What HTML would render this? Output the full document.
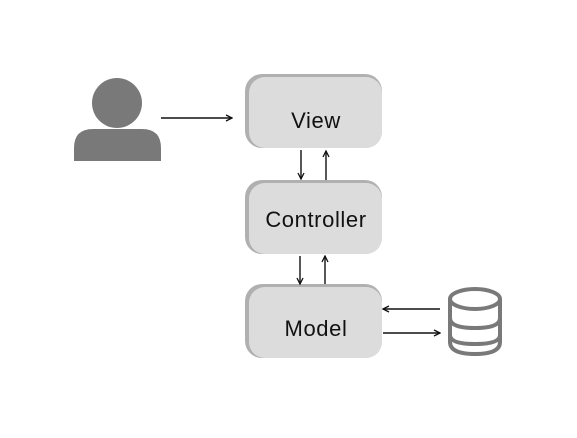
<!DOCTYPE html>
<html><head><style>
body{margin:0;background:#fff;width:577px;height:433px;overflow:hidden}
</style></head><body>
<svg width="577" height="433" viewBox="0 0 577 433" xmlns="http://www.w3.org/2000/svg">
<defs>
<marker id="a" markerWidth="8" markerHeight="8" refX="7" refY="4" orient="auto" markerUnits="userSpaceOnUse">
<path d="M1,1 L7,4 L1,7" fill="none" stroke="#111" stroke-width="1.3"/>
</marker>
</defs>
<circle cx="117" cy="103" r="25" fill="#797979"/>
<path d="M74,161 L74,148 Q74,129 93,129 L142,129 Q161,129 161,148 L161,161 Z" fill="#797979"/>
<g font-family="Liberation Sans, sans-serif" font-size="22" fill="#111" text-anchor="middle" letter-spacing="0.6">
<rect x="245" y="74" width="137" height="74" rx="17" fill="#b0b0b0"/>
<rect x="249" y="77" width="133" height="71" rx="16" fill="#dcdcdc"/>
<text x="316" y="128">View</text>
<rect x="245" y="180" width="137" height="74" rx="17" fill="#b0b0b0"/>
<rect x="249" y="183" width="133" height="71" rx="16" fill="#dcdcdc"/>
<text x="316" y="227">Controller</text>
<rect x="245" y="284" width="137" height="74" rx="17" fill="#b0b0b0"/>
<rect x="249" y="287" width="133" height="71" rx="16" fill="#dcdcdc"/>
<text x="316" y="336">Model</text>
</g>
<g stroke="#111" stroke-width="1.4" fill="none">
<line x1="161" y1="118" x2="232" y2="118" marker-end="url(#a)"/>
<line x1="301" y1="150" x2="301" y2="179" marker-end="url(#a)"/>
<line x1="326" y1="180" x2="326" y2="151" marker-end="url(#a)"/>
<line x1="300" y1="256" x2="300" y2="284" marker-end="url(#a)"/>
<line x1="325" y1="284" x2="325" y2="256" marker-end="url(#a)"/>
<line x1="440" y1="309" x2="383" y2="309" marker-end="url(#a)"/>
<line x1="383" y1="333" x2="440" y2="333" marker-end="url(#a)"/>
</g>
<g stroke="#797979" stroke-width="4" fill="none">
<ellipse cx="475" cy="299" rx="25" ry="10"/>
<path d="M450,299 L450,342 Q450,354 475,354 Q500,354 500,342 L500,299"/>
<path d="M450,318 Q450,328 475,328 Q500,328 500,318"/>
<path d="M450,335 Q450,344 475,344 Q500,344 500,335"/>
</g>
</svg>
</body></html>
